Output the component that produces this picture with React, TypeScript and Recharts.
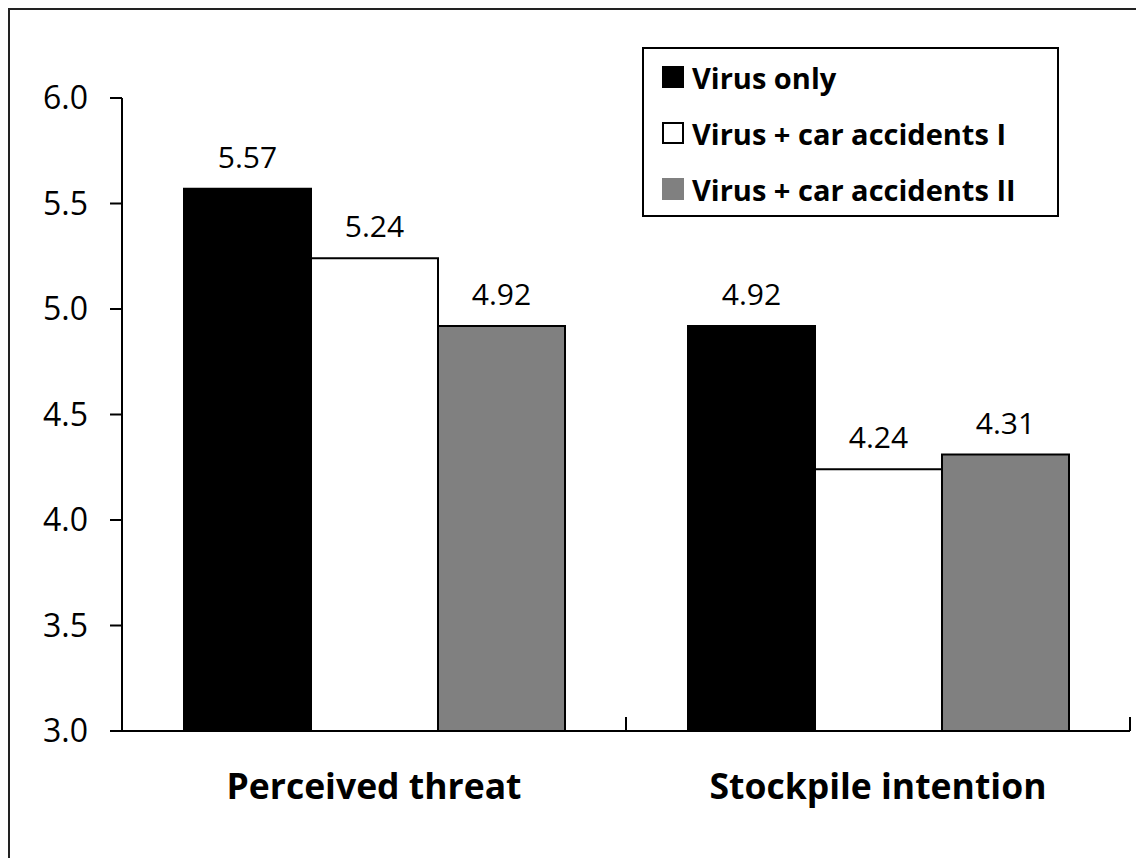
import React from 'react';
import { BarChart, Bar, XAxis, YAxis, Legend, LabelList } from 'recharts';

const categories = ['Perceived threat', 'Stockpile intention'];
const virusOnly = [5.57, 4.92];
const carAccidentsI = [5.24, 4.24];
const carAccidentsII = [4.92, 4.31];
const seriesNames = ['Virus only', 'Virus + car accidents I', 'Virus + car accidents II'];
const yTicks = [3.0, 3.5, 4.0, 4.5, 5.0, 5.5, 6.0];

const data = categories.map((name, i) => ({
  name,
  virusOnly: virusOnly[i],
  carI: carAccidentsI[i],
  carII: carAccidentsII[i],
}));

const series = [
  { key: 'virusOnly', name: seriesNames[0], fill: '#000000', stroke: '#000000' },
  { key: 'carI', name: seriesNames[1], fill: '#ffffff', stroke: '#000000' },
  { key: 'carII', name: seriesNames[2], fill: '#808080', stroke: '#000000' },
];

const FONT = '"Open Sans", "DejaVu Sans", sans-serif';

// category label plus the short upward ticks at the edges of each category band
function CategoryTick(props: any) {
  const { x, y, payload } = props;
  const half = payload && payload.offset ? payload.offset : 0;
  return (
    <g>
      {half > 0 && (
        <>
          <line x1={x - half} x2={x - half} y1={y} y2={y - 14} stroke="#000" strokeWidth={2} />
          <line x1={x + half} x2={x + half} y1={y} y2={y - 14} stroke="#000" strokeWidth={2} />
        </>
      )}
      <text
        x={x}
        y={y + 68}
        textAnchor="middle"
        fill="#000"
        fontSize={35.5}
        fontWeight={700}
        fontFamily={FONT}
      >
        {payload.value}
      </text>
    </g>
  );
}

function LegendBox() {
  return (
    <div
      style={{
        boxSizing: 'border-box',
        width: 417,
        height: 170,
        border: '2px solid #000',
        background: '#fff',
        fontFamily: FONT,
        fontWeight: 700,
        fontSize: 29,
        color: '#000',
      }}
    >
      {series.map((s) => {
        const white = s.fill === '#ffffff';
        return (
          <div
            key={s.key}
            style={{ display: 'flex', alignItems: 'center', height: 56, paddingLeft: 18 }}
          >
            <span
              style={{
                display: 'inline-block',
                boxSizing: 'border-box',
                width: 22,
                height: 22,
                background: s.fill,
                border: white ? '2px solid #000' : 'none',
                marginRight: 8,
              }}
            />
            <span style={{ whiteSpace: 'nowrap' }}>{s.name}</span>
          </div>
        );
      })}
    </div>
  );
}

export default function App() {
  return (
    <div
      style={{
        position: 'relative',
        width: 1128,
        height: 850,
        overflow: 'hidden',
        background: '#fff',
        fontFamily: FONT,
      }}
    >
      <div
        style={{
          position: 'absolute',
          left: 0,
          top: 0,
          width: 1200,
          height: 900,
          borderLeft: '2px solid #222',
          borderTop: '2px solid #222',
          pointerEvents: 'none',
        }}
      />
      <BarChart
        width={1128}
        height={850}
        data={data}
        margin={{ top: 90, right: 6, bottom: 126, left: 0 }}
        barGap={0}
        barSize={127}
      >
        <YAxis
          width={114}
          type="number"
          domain={[3, 6]}
          ticks={yTicks}
          allowDataOverflow
          tickFormatter={(v: number) => v.toFixed(1)}
          tickSize={12}
          tickMargin={22}
          axisLine={{ stroke: '#000', strokeWidth: 2 }}
          tickLine={{ stroke: '#000', strokeWidth: 2 }}
          tick={{ fill: '#000', fontSize: 32 }}
        />
        <XAxis
          dataKey="name"
          height={1}
          tickLine={false}
          tickSize={0}
          tickMargin={0}
          axisLine={{ stroke: '#000', strokeWidth: 2 }}
          tick={<CategoryTick />}
        />
        <Legend
          layout="horizontal"
          verticalAlign="middle"
          align="center"
          content={<LegendBox />}
          wrapperStyle={{ position: 'absolute', top: 39, left: 634, width: 417, height: 170 }}
        />
        {series.map((s) => (
          <Bar
            key={s.key}
            dataKey={s.key}
            name={s.name}
            fill={s.fill}
            stroke={s.stroke}
            strokeWidth={2}
            isAnimationActive={false}
          >
            <LabelList
              dataKey={s.key}
              position="top"
              offset={21}
              formatter={(v: any) => Number(v).toFixed(2)}
              style={{ fill: '#000', fontSize: 30, fontFamily: FONT }}
            />
          </Bar>
        ))}
      </BarChart>
    </div>
  );
}
